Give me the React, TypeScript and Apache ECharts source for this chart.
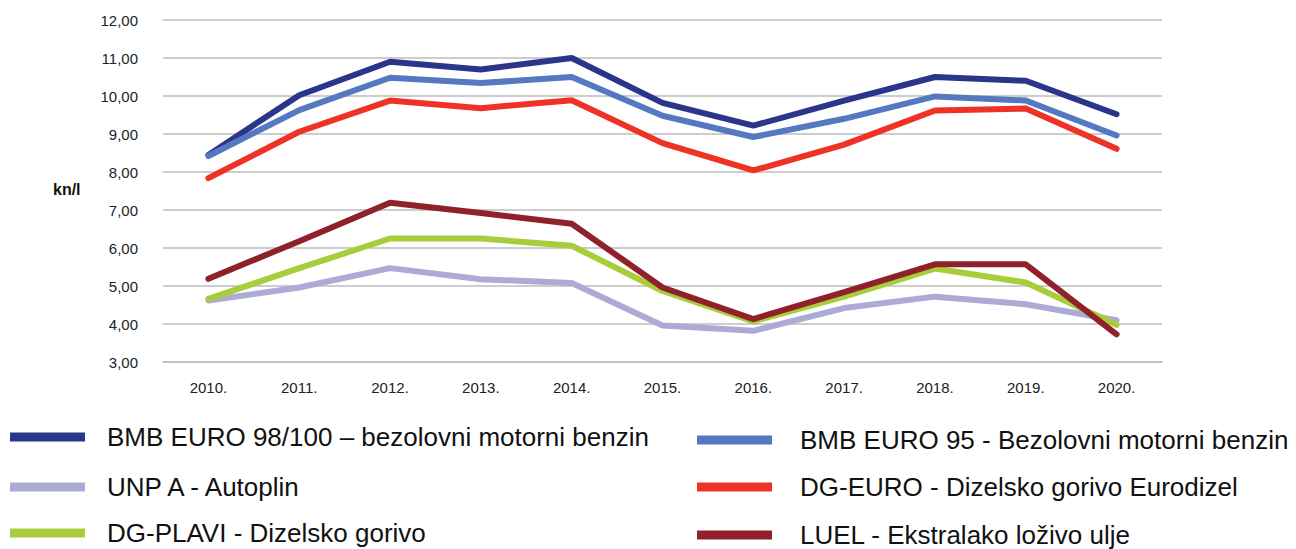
import React, { useEffect, useRef } from "react";
import * as echarts from "echarts";

const years = ["2010.", "2011.", "2012.", "2013.", "2014.", "2015.", "2016.", "2017.", "2018.", "2019.", "2020."];

const bmb98 = [8.45, 10.02, 10.9, 10.7, 11.0, 9.82, 9.22, 9.88, 10.5, 10.4, 9.52];
const bmb95 = [8.42, 9.63, 10.48, 10.34, 10.5, 9.48, 8.92, 9.4, 9.99, 9.88, 8.96];
const dgEuro = [7.84, 9.06, 9.88, 9.68, 9.89, 8.76, 8.04, 8.72, 9.62, 9.67, 8.61];
const unp = [4.62, 4.96, 5.47, 5.18, 5.08, 3.96, 3.82, 4.42, 4.72, 4.52, 4.1];
const dgPlavi = [4.66, 5.47, 6.25, 6.25, 6.06, 4.87, 4.07, 4.72, 5.46, 5.09, 3.98];
const luel = [5.19, 6.18, 7.19, 6.92, 6.64, 4.96, 4.13, 4.84, 5.57, 5.57, 3.73];

const names = {
  bmb98: "BMB EURO 98/100 \u2013 bezolovni motorni benzin",
  bmb95: "BMB EURO 95 - Bezolovni motorni benzin",
  unp: "UNP A - Autoplin",
  dgEuro: "DG-EURO - Dizelsko gorivo Eurodizel",
  dgPlavi: "DG-PLAVI - Dizelsko gorivo",
  luel: "LUEL - Ekstralako lo\u017eivo ulje",
};

const colors = {
  bmb98: "#2B3589",
  bmb95: "#5479C0",
  unp: "#ABABD6",
  dgEuro: "#EE3326",
  dgPlavi: "#A7CE3A",
  luel: "#8E2129",
};

export default function App() {
  const ref = useRef<HTMLDivElement>(null);
  useEffect(() => {
    if (!ref.current) return;
    const chart = echarts.init(ref.current, undefined, { renderer: "svg" });
    const axisFont = "'Liberation Sans', Arial, sans-serif";
    const legendFont = "'Liberation Sans', Arial, sans-serif";
    const mkSeries = (key: keyof typeof names, data: number[]) => ({
      name: names[key],
      type: "line",
      data,
      symbol: "none",
      lineStyle: { width: 6, color: colors[key], cap: "round" },
      itemStyle: { color: colors[key] },
    });
    const mkLegend = (key: keyof typeof names, left: number, cy: number, gap: number) => ({
      data: [names[key]],
      left,
      top: cy - 13,
      icon: "rect",
      itemWidth: 75,
      itemHeight: 9,
      padding: 0,
      textStyle: {
        fontFamily: legendFont,
        fontSize: 26,
        color: "#111",
        lineHeight: 26,
        padding: [0, 0, 0, gap],
      },
    });
    chart.setOption({
      animation: false,
      backgroundColor: "#fff",
      grid: { left: 163, right: 134, top: 20, bottom: 187 },
      xAxis: {
        type: "category",
        data: years,
        boundaryGap: true,
        axisLine: { show: true, lineStyle: { color: "#BDBDBD", width: 1.5 } },
        axisTick: { show: false },
        axisLabel: { margin: 18, fontFamily: axisFont, fontSize: 15, color: "#222" },
      },
      yAxis: {
        type: "value",
        min: 3,
        max: 12,
        interval: 1,
        axisLine: { show: false },
        axisTick: { show: false },
        splitLine: { lineStyle: { color: "#BDBDBD", width: 1.5 } },
        axisLabel: {
          margin: 25,
          fontFamily: axisFont,
          fontSize: 15,
          color: "#222",
          formatter: (v: number) => v.toFixed(2).replace(".", ","),
        },
      },
      legend: [
        mkLegend("bmb98", 10, 437, 17),
        mkLegend("unp", 10, 487, 17),
        mkLegend("dgPlavi", 10, 533, 17),
        mkLegend("bmb95", 697, 440, 23),
        mkLegend("dgEuro", 697, 487, 23),
        mkLegend("luel", 697, 535, 23),
      ],
      graphic: [
        {
          type: "text",
          x: 53,
          y: 189,
          style: {
            text: "kn/l",
            fontFamily: axisFont,
            fontWeight: "bold",
            fontSize: 16,
            fill: "#111",
            verticalAlign: "middle",
          },
        },
      ],
      series: [
        mkSeries("bmb98", bmb98),
        mkSeries("bmb95", bmb95),
        mkSeries("dgEuro", dgEuro),
        mkSeries("unp", unp),
        mkSeries("dgPlavi", dgPlavi),
        mkSeries("luel", luel),
      ],
    });
    return () => chart.dispose();
  }, []);
  return (
    <div
      ref={ref}
      style={{ position: "fixed", left: 0, top: 0, width: 1296, height: 549 }}
    />
  );
}
